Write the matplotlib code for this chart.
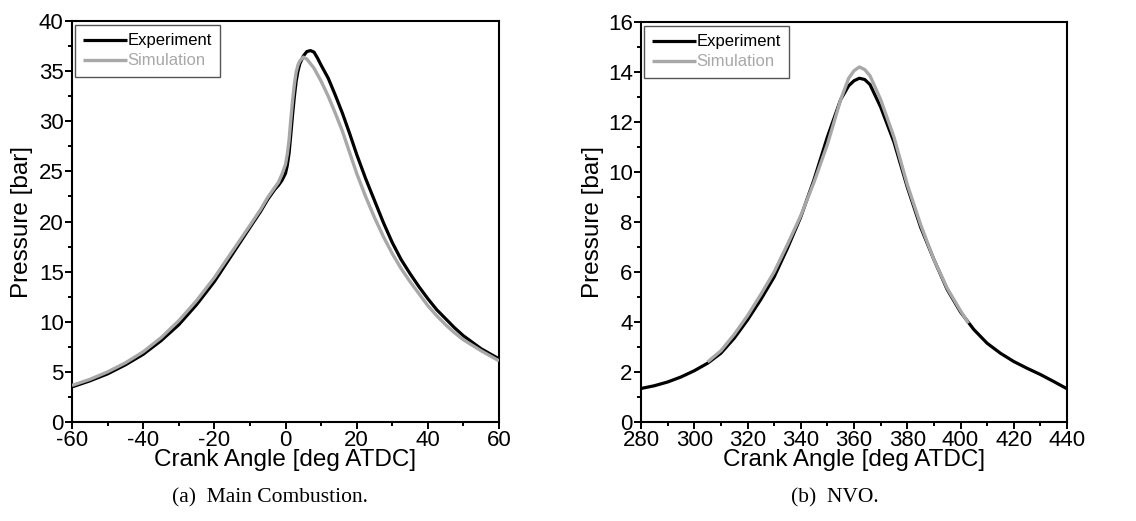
import matplotlib
matplotlib.use("Agg")
import matplotlib.pyplot as plt
from matplotlib.ticker import MultipleLocator

plt.rcParams['font.family'] = ['Liberation Sans', 'DejaVu Sans']
plt.rcParams['axes.unicode_minus'] = False

# ---- Data: (a) Main Combustion ----
main_exp_x = [-60, -55, -50, -45, -40, -35, -30, -25, -20, -15, -10, -7, -5, -3, -2, -1, 0, 0.5, 1, 1.5, 2,
              2.5, 3, 3.5, 4, 5, 6, 7, 8, 9, 10, 12, 14, 16, 18, 20, 22.5, 25, 27.5, 30, 32.5, 35, 37.5,
              40, 42.5, 45, 47.5, 50, 55, 60]
main_exp_y = [3.5, 4.1, 4.8, 5.7, 6.75, 8.1, 9.7, 11.7, 14.0, 16.7, 19.4, 21.0, 22.2, 23.2, 23.6, 24.1, 24.8, 25.6, 26.8, 28.7, 30.7,
              32.5, 34.0, 35.0, 35.7, 36.5, 36.95, 37.05, 36.9, 36.3, 35.6, 34.3, 32.6, 30.8, 28.8, 26.7, 24.3, 22.1, 19.9, 17.9, 16.2, 14.8, 13.5,
              12.3, 11.2, 10.3, 9.4, 8.6, 7.3, 6.3]

main_sim_x = [-60, -55, -50, -45, -40, -35, -30, -25, -20, -15, -10, -7, -5, -3, -2, -1, 0, 0.5, 1, 1.5, 2,
              2.5, 3, 3.5, 4, 5, 6, 8, 10, 12, 14, 16, 18, 20, 22.5, 25, 27.5, 30, 32.5, 35, 37.5,
              40, 42.5, 45, 47.5, 50, 55, 60]
main_sim_y = [3.65, 4.25, 5.0, 5.9, 7.0, 8.4, 10.1, 12.1, 14.4, 17.0, 19.6, 21.2, 22.4, 23.4, 23.9, 24.7, 25.7, 26.7, 28.1, 30.2, 32.1,
              33.7, 34.9, 35.6, 36.0, 36.4, 36.2, 35.3, 34.0, 32.5, 30.8, 29.0, 26.9, 24.8, 22.5, 20.4, 18.5, 16.8, 15.3, 14.0, 12.8,
              11.6, 10.6, 9.7, 8.9, 8.2, 7.1, 6.1]

# ---- Data: (b) NVO ----
nvo_exp_x = [280, 285, 290, 295, 300, 305, 310, 315, 320, 325, 330, 335, 340, 345, 350, 355, 358, 360, 362, 364, 366,
             370, 375, 380, 385, 390, 395, 400, 405, 410, 415, 420, 425, 430, 435, 440]
nvo_exp_y = [1.34, 1.45, 1.6, 1.8, 2.05, 2.35, 2.75, 3.35, 4.08, 4.9, 5.8, 6.95, 8.2, 9.7, 11.4, 12.9, 13.45, 13.65, 13.75, 13.7, 13.5,
             12.6, 11.2, 9.4, 7.8, 6.5, 5.3, 4.4, 3.7, 3.15, 2.75, 2.42, 2.15, 1.9, 1.62, 1.33]

nvo_sim_x = [305, 310, 315, 320, 325, 330, 335, 340, 345, 350, 355, 358, 360, 362, 364, 366,
             370, 375, 380, 385, 390, 395, 400, 403]
nvo_sim_y = [2.4, 2.85, 3.5, 4.25, 5.1, 6.0, 7.1, 8.25, 9.6, 11.1, 12.9, 13.75, 14.05, 14.2, 14.1, 13.85,
             12.9, 11.4, 9.5, 7.9, 6.5, 5.35, 4.45, 3.95]

labels = ["Experiment", "Simulation"]
colors = ["#000000", "#a8a8a8"]

fig = plt.figure(figsize=(11.36, 5.21), dpi=100)
W, H = 1136, 521

def make_axes(left_px, top_px, right_px, bottom_px):
    return fig.add_axes([left_px / W, 1 - bottom_px / H, (right_px - left_px) / W, (bottom_px - top_px) / H])

ax1 = make_axes(72, 21, 499, 422)
ax2 = make_axes(641, 22, 1067, 422)

panels = [
    (ax1, main_exp_x, main_exp_y, main_sim_x, main_sim_y, (-60, 60), (0, 40), 20, 10, 5, 2.5),
    (ax2, nvo_exp_x, nvo_exp_y, nvo_sim_x, nvo_sim_y, (280, 440), (0, 16), 20, 10, 2, 1),
]

for ax, ex, ey, sx, sy, xl, yl, xmaj, xmin, ymaj, ymin in panels:
    ax.plot(ex, ey, color=colors[0], lw=2.3, label=labels[0], solid_capstyle='butt', zorder=2)
    ax.plot(sx, sy, color=colors[1], lw=2.4, label=labels[1], solid_capstyle='butt', zorder=3)
    ax.set_xlim(*xl)
    ax.set_ylim(*yl)
    ax.xaxis.set_major_locator(MultipleLocator(xmaj))
    ax.xaxis.set_minor_locator(MultipleLocator(xmin))
    ax.yaxis.set_major_locator(MultipleLocator(ymaj))
    ax.yaxis.set_minor_locator(MultipleLocator(ymin))
    ax.tick_params(which='major', direction='out', length=5, width=1.4, labelsize=16, pad=1)
    ax.tick_params(which='minor', direction='out', length=3, width=1.4)
    ax.tick_params(top=False, right=False, which='both')
    for sp in ax.spines.values():
        sp.set_linewidth(1.5)
    ax.set_xlabel("Crank Angle [deg ATDC]", fontsize=17.5)
    ax.set_ylabel("Pressure [bar]", fontsize=17.5)
    ax.xaxis.label.set_va('center')
    ax.yaxis.label.set_va('center')
    leg = ax.legend(loc='upper left', bbox_to_anchor=(0.007, 0.99), borderaxespad=0,
                    fontsize=12, handlelength=2.6, handletextpad=0.05, labelspacing=0.3,
                    borderpad=0.5, fancybox=False, framealpha=1, labelcolor='linecolor')
    leg.get_frame().set_edgecolor('#555555')
    leg.get_frame().set_linewidth(1.0)

ax1.xaxis.set_label_coords(0.5, (422 - 460) / 401)
ax1.yaxis.set_label_coords((22 - 72) / 427, 0.5)
ax2.xaxis.set_label_coords(0.5, (422 - 460) / 400)
ax2.yaxis.set_label_coords((593 - 641) / 426, 0.5)

fig.text(270 / W, 1 - 498 / H, "(a)  Main Combustion.", fontsize=15.5,
         family=['Liberation Serif', 'DejaVu Serif'], ha='center', va='center')
fig.text(835 / W, 1 - 498 / H, "(b)  NVO.", fontsize=15.5,
         family=['Liberation Serif', 'DejaVu Serif'], ha='center', va='center')

fig.savefig("out.png", dpi=100)
